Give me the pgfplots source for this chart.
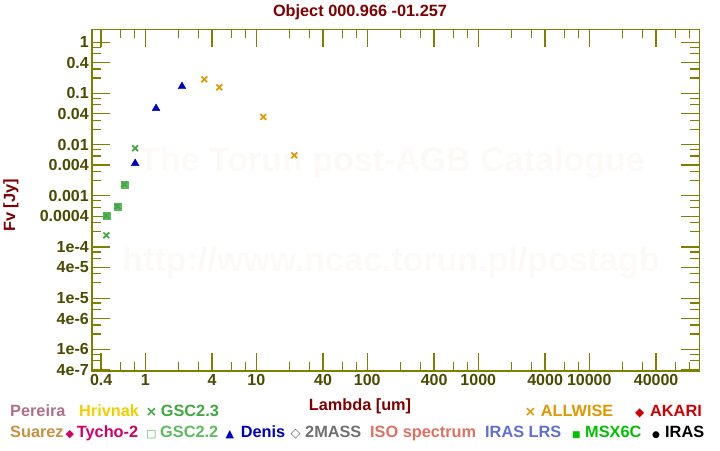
\documentclass[border=0pt]{standalone}
\usepackage{pgfplots}
\pgfplotsset{compat=1.18}
\usepackage{fontspec}
\setmainfont{Liberation Sans}
\newfontfamily\dejavu{DejaVu Sans}
\definecolor{axisol}{HTML}{808000}
\definecolor{ticklab}{HTML}{4A4A00}
\definecolor{titlered}{HTML}{800000}
\definecolor{wm}{HTML}{FCFAF7}
\definecolor{cpereira}{HTML}{B07088}
\definecolor{chrivnak}{HTML}{EED000}
\definecolor{cgsc23}{HTML}{3FA83F}
\definecolor{cgsc22}{HTML}{5CBC5C}
\definecolor{csuarez}{HTML}{C89040}
\definecolor{ctycho}{HTML}{D0006A}
\definecolor{cdenis}{HTML}{0000C0}
\definecolor{c2mass}{HTML}{707070}
\definecolor{ciso}{HTML}{E07060}
\definecolor{cirlrs}{HTML}{6070D0}
\definecolor{cmsx}{HTML}{00C000}
\definecolor{cwise}{HTML}{E09800}
\definecolor{cakari}{HTML}{D00000}
\newcommand{\lf}{\bfseries\fontsize{16.3}{16.3}\selectfont}
\newcommand{\sym}[1]{\dejavu\bfseries\fontsize{#1}{#1}\selectfont}
\begin{document}
\begin{tikzpicture}[x=1pt,y=1pt]
\path[use as bounding box] (0,0) rectangle (720,450);
% watermarks
\node[text=wm, font=\bfseries\fontsize{34}{34}\selectfont] at (392,287) {The Torun post-AGB Catalogue};
\node[text=wm, font=\bfseries\fontsize{34}{34}\selectfont] at (391,187) {http://www.ncac.torun.pl/postagb};
\begin{axis}[
  at={(92.3pt,79pt)}, anchor=south west,
  scale only axis, width=607pt, height=341.7pt,
  xmode=log, ymode=log,
  xmin=0.333, xmax=98000, ymin=3.77e-7, ymax=1.795,
  axis line style={draw=axisol, line width=1.6pt},
  xtick={0.4,1,4,10,40,100,400,1000,4000,10000,40000},
  xticklabels={0.4,1,4,10,40,100,400,1000,4000,10000,40000},
  minor xtick={0.6,0.8,2,3,6,8,20,30,60,80,200,300,600,800,2000,3000,6000,8000,20000,30000,60000,80000},
  ytick={4e-7,1e-6,4e-6,1e-5,4e-5,1e-4,4e-4,1e-3,4e-3,1e-2,4e-2,0.1,0.4,1},
  yticklabels={4e-7,1e-6,4e-6,1e-5,4e-5,1e-4,0.0004,0.001,0.004,0.01,0.04,0.1,0.4,1},
  minor ytick={6e-7,8e-7,2e-6,3e-6,6e-6,8e-6,2e-5,3e-5,6e-5,8e-5,2e-4,3e-4,6e-4,8e-4,2e-3,3e-3,6e-3,8e-3,0.02,0.03,0.06,0.08,0.2,0.3,0.6,0.8},
  tick align=inside, major tick length=18pt, minor tick length=9pt,
  every tick/.style={draw=axisol, line width=1.3pt},
  tick label style={font=\bfseries\fontsize{16}{16}\selectfont, text=ticklab},
  clip=false,
]
\addplot[only marks, mark=square*, mark size=3.5pt, color=cgsc22] coordinates {(0.445,4.1e-4) (0.56,6.24e-4) (0.647,1.68e-3)};
\addplot[only marks, mark=x, mark size=4.1pt, mark options={line width=1.7pt}, color=cgsc23] coordinates {(0.445,4.1e-4) (0.56,6.24e-4) (0.647,1.68e-3) (0.445,1.69e-4) (0.81,8.5e-3)};
\addplot[only marks, mark=triangle*, mark size=4.5pt, color=cdenis] coordinates {(0.81,0.0043) (1.25,0.051) (2.14,0.137)};
\addplot[only marks, mark=x, mark size=4.1pt, mark options={line width=1.7pt}, color=cwise] coordinates {(3.40,0.189) (4.64,0.132) (11.56,0.0347) (22.0,0.0062)};
\end{axis}
% title and labels
\node[anchor=base, text=titlered, font=\lf] at (360,433.3) {Object 000.966 -01.257};
\node[anchor=base, text=titlered, font=\lf] at (360,40) {Lambda [um]};
\node[anchor=base, rotate=90, text=titlered, font=\lf] at (15,244.5) {Fv [Jy]};
% legend row 1
\node[anchor=base west, inner sep=0, text=cpereira, font=\lf] at (10,33.7) {Pereira};
\node[anchor=base west, inner sep=0, text=chrivnak, font=\lf] at (79,33.7) {Hrivnak};
\node[anchor=base west, inner sep=0, text=cgsc23, font=\sym{14}] at (145.5,33.7) {×};
\node[anchor=base west, inner sep=0, text=cgsc23, font=\lf] at (160.7,33.7) {GSC2.3};
\node[anchor=base west, inner sep=0, text=cwise, font=\sym{14}] at (524.5,33.7) {×};
\node[anchor=base west, inner sep=0, text=cwise, font=\lf] at (540.7,33.7) {ALLWISE};
\node[anchor=base west, inner sep=0, text=cakari, font=\sym{12}] at (635,33.7) {◆};
\node[anchor=base west, inner sep=0, text=cakari, font=\lf] at (650,33.7) {AKARI};
% legend row 2
\node[anchor=base west, inner sep=0, text=csuarez, font=\lf] at (10,12.7) {Suarez};
\node[anchor=base west, inner sep=0, text=ctycho, font=\sym{11}] at (65.5,12.7) {◆};
\node[anchor=base west, inner sep=0, text=ctycho, font=\lf] at (76.7,12.7) {Tycho-2};
\node[anchor=base west, inner sep=0, text=cgsc22, font=\sym{11}] at (146,12.7) {□};
\node[anchor=base west, inner sep=0, text=cgsc22, font=\lf] at (160,12.7) {GSC2.2};
\node[anchor=base west, inner sep=0, text=cdenis, font=\sym{11}] at (225.5,12.7) {▲};
\node[anchor=base west, inner sep=0, text=cdenis, font=\lf] at (240.7,12.7) {Denis};
\node[anchor=base west, inner sep=0, text=c2mass, font=\sym{13}] at (290.5,12.7) {◇};
\node[anchor=base west, inner sep=0, text=c2mass, font=\lf] at (305,12.7) {2MASS};
\node[anchor=base west, inner sep=0, text=ciso, font=\lf] at (370,12.7) {ISO spectrum};
\node[anchor=base west, inner sep=0, text=cirlrs, font=\lf] at (485,12.7) {IRAS LRS};
\node[anchor=base west, inner sep=0, text=cmsx, font=\sym{9}] at (572,12.7) {■};
\node[anchor=base west, inner sep=0, text=cmsx, font=\lf] at (585,12.7) {MSX6C};
\node[anchor=base west, inner sep=0, text=black, font=\sym{9}] at (652,12.7) {●};
\node[anchor=base west, inner sep=0, text=black, font=\lf] at (665,12.7) {IRAS};
\end{tikzpicture}
\end{document}
